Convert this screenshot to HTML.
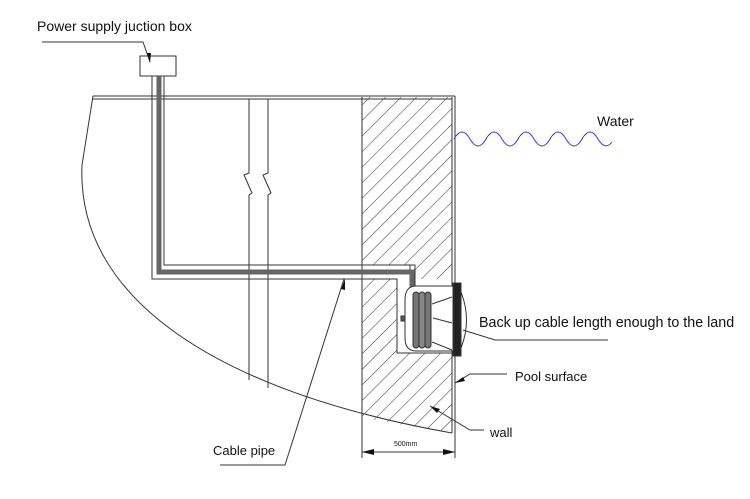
<!DOCTYPE html>
<html><head><meta charset="utf-8"><style>
html,body{margin:0;padding:0;background:#fff;}
svg{display:block;}
text{font-family:"Liberation Sans",Arial,sans-serif;fill:#111;}
</style></head><body>
<svg width="750" height="499" viewBox="0 0 750 499" xmlns="http://www.w3.org/2000/svg">
<defs>
<pattern id="h" patternUnits="userSpaceOnUse" width="11" height="11" patternTransform="rotate(45)">
<line x1="0" y1="0" x2="0" y2="11" stroke="#333" stroke-width="1"/>
</pattern>
</defs>
<g stroke="#333" fill="none" stroke-width="1">
<path d="M362,97 L452,97 L452,433 L362,418 Z" fill="url(#h)" stroke="none"/>
<rect x="362" y="265" width="53" height="14" fill="#fff" stroke="none"/>
<rect x="410" y="265" width="5" height="22" fill="#fff" stroke="none"/>
<rect x="397" y="279" width="58" height="74" fill="#fff" stroke="none"/>
<path d="M362,265 L415,265 L415,286 L452,286"/>
<path d="M362,279 L397,279 L397,353 L452,353"/>
<path d="M93,96 L455,96 M93,99 L452,99"/>
<path d="M362,97 L362,458 M452,97 L452,433 M455,96 L455,458"/>
<path d="M93,96 L82,165 C 76,300 220,392 452,433"/>
<path d="M249,99 L249,173 L244,175 L252,193 L249,195 L249,380"/>
<path d="M268,99 L268,173 L263,175 L271,193 L268,195 L268,388"/>
<rect x="140" y="56" width="36" height="20" fill="#fff"/>
<path d="M152,76 L152,279 L397,279 M164,76 L164,265 L410,265 L410,290 M415,265 L415,286" />
<path d="M159,76 L159,272 L412,272 L412,292" stroke="#666" stroke-width="5"/>
<path d="M455,286 L416,286 Q405,286 405,300 L405,338 Q405,351 416,351 L455,351" fill="#fff"/>
<rect x="413" y="292" width="6" height="56" rx="3" fill="#777"/>
<rect x="419" y="292" width="6" height="56" rx="3" fill="#888"/>
<rect x="425" y="292" width="6" height="56" rx="3" fill="#777"/>
<rect x="401" y="316" width="4" height="5" fill="#555"/>
<path d="M432,304 L452,297 M432,342 L452,350 M452,323 L433,318"/>
<rect x="453" y="283" width="8" height="73" fill="#222"/>
<path d="M461,292 Q472,320 461,348"/>
<path d="M454,139 q8,-14 16,0 q8,14 16,0 q8,-14 16,0 q8,14 16,0 q8,-14 16,0 q8,14 16,0 q8,-14 16,0 q8,14 16,0 q8,-14 16,0 q7,12 14,3" stroke="#3a3ae0"/>
<path d="M42,42 L143,42 L150,62"/>
<path d="M463,330 L495,340 L608,340"/>
<path d="M455,383 L470,374 L507,374"/>
<path d="M430,406 L470,430 L484,430"/>
<path d="M220,465 L285,465 L344,279"/>
<path d="M362,452 L455,452"/>
</g>
<g fill="#111">
<path d="M362,452 L374,449 L374,455 Z M455,452 L443,449 L443,455 Z"/>
<path d="M455,383 L463,377 L465,381 Z"/>
<path d="M430,406 L440,409 L437,413 Z"/>
<path d="M345,279 L345,290 L341,289 Z"/>
<path d="M150,63 L147,53 L151,53 Z"/>
</g>
<text x="37" y="31" font-size="14">Power supply juction box</text>
<text x="597" y="126" font-size="14">Water</text>
<text x="479" y="327" font-size="14.3">Back up cable length enough to the land</text>
<text x="515" y="381" font-size="13">Pool surface</text>
<text x="490" y="437" font-size="13">wall</text>
<text x="213" y="455" font-size="13">Cable pipe</text>
<text x="394" y="446" font-size="7">500mm</text>
</svg>
</body></html>
